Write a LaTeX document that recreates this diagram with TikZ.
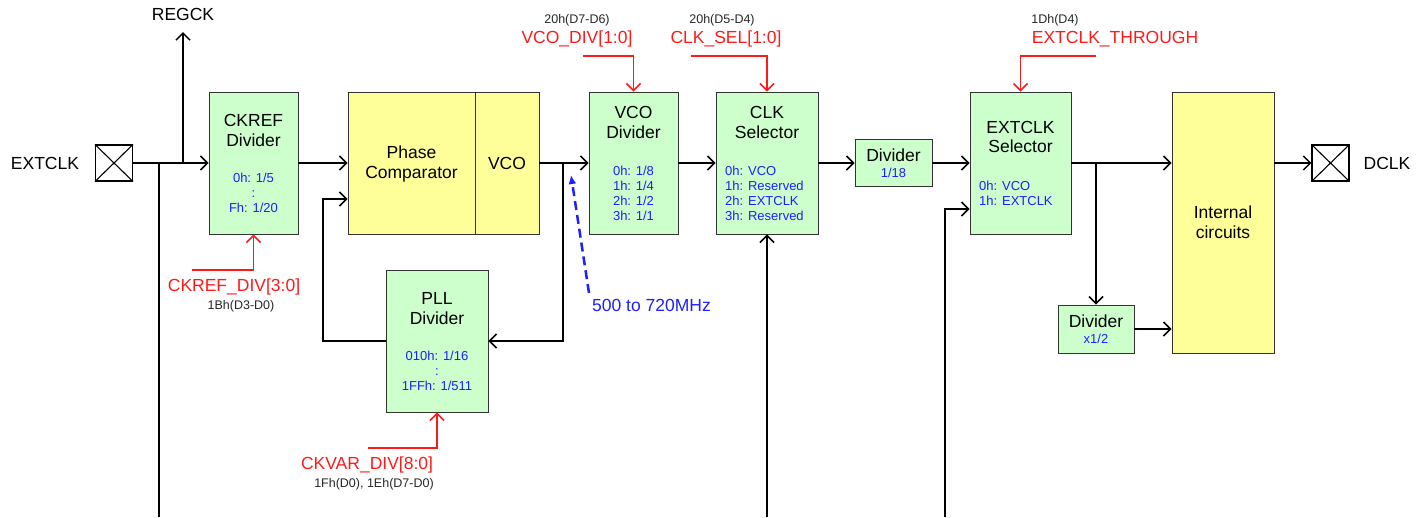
\documentclass[tikz,border=0pt]{standalone}
\usepackage{fontspec}
\setmainfont{Liberation Sans}
\usetikzlibrary{arrows.meta}
\definecolor{boxgreen}{HTML}{CCFFCC}
\definecolor{boxyellow}{HTML}{FFFF99}
\definecolor{sigred}{HTML}{FF1A1A}
\definecolor{valblue}{HTML}{1F1FFF}
\definecolor{edgegray}{HTML}{333333}
\begin{document}
\begin{tikzpicture}[x=1pt,y=-1pt,
 gbox/.style={draw=edgegray, line width=0.9pt, fill=boxgreen, inner sep=0pt},
 ybox/.style={draw=edgegray, line width=0.9pt, fill=boxyellow, inner sep=0pt},
 padbox/.style={draw=black, line width=1.1pt, fill=white, minimum width=37pt, minimum height=36pt, inner sep=0pt},
 wire/.style={line width=1.5pt, black},
 arr/.style={wire, -{Straight Barb[length=7pt,width=14pt]}},
 redarr/.style={line width=1.5pt, sigred, -{Straight Barb[length=7pt,width=14pt]}},
 big/.style={font=\fontsize{17.5}{19.5}\selectfont, inner sep=0pt, align=center},
 val/.style={font=\fontsize{13}{15}\selectfont, text=valblue, inner sep=0pt},
 reg/.style={font=\fontsize{17.5}{19.5}\selectfont, text=sigred, inner sep=0pt},
 addr/.style={font=\fontsize{12.5}{14}\selectfont, text=black!85, inner sep=0pt},
]
\useasboundingbox (0,0) rectangle (1425,517);

% ---- boxes
\node[gbox, minimum width=89pt, minimum height=142pt] (ckref) at (253.5,163) {};
\node[ybox, minimum width=127pt, minimum height=142pt] (pc) at (411.5,163) {};
\node[ybox, minimum width=64pt, minimum height=142pt] (vco) at (507,163) {};
\node[gbox, minimum width=89pt, minimum height=142pt] (vdiv) at (633.5,163) {};
\node[gbox, minimum width=102pt, minimum height=142pt] (clksel) at (767,163) {};
\node[gbox, minimum width=77pt, minimum height=47pt] (div18) at (893.5,163) {};
\node[gbox, minimum width=101pt, minimum height=142pt] (extsel) at (1020.5,163) {};
\node[gbox, minimum width=102pt, minimum height=142pt] (pll) at (437,341) {};
\node[gbox, minimum width=76pt, minimum height=48pt] (div2) at (1096,329) {};
\node[ybox, minimum width=102pt, minimum height=261pt] (ic) at (1223,222.5) {};

% ---- pads
\node[padbox] (padin) at (114,163) {};
\draw[line width=1.1pt] (padin.north west) -- (padin.south east) (padin.north east) -- (padin.south west);
\node[padbox] (padout) at (1330.5,163) {};
\draw[line width=1.1pt] (padout.north west) -- (padout.south east) (padout.north east) -- (padout.south west);

% ---- box texts
\node[big] (ckrefT) at (253.5,130.5) {CKREF\\Divider};
\node[val, align=center] (ckrefV) at (253.5,193) {0h: 1/5\\:\\Fh: 1/20};
\node[big] (pcT) at (411.5,164) {Phase\\Comparator};
\node[big] (vcoT) at (507,163) {VCO};
\node[big] (vdivT) at (633.5,122.5) {VCO\\Divider};
\node[val, align=center] (vdivV) at (633.5,193.5) {0h: 1/8\\1h: 1/4\\2h: 1/2\\3h: 1/1};
\node[big] (clkselT) at (767,122.5) {CLK\\Selector};
\node[val, align=left, anchor=west] (clkselV) at (725,193.5) {0h: VCO\\1h: Reserved\\2h: EXTCLK\\3h: Reserved};
\node[big] (div18T) at (893.5,155) {Divider};
\node[val] (div18V) at (893.5,173) {1/18};
\node[big] (extselT) at (1020.5,137) {EXTCLK\\Selector};
\node[val, align=left, anchor=west] (extselV) at (979,193.5) {0h: VCO\\1h: EXTCLK};
\node[big] (pllT) at (437,308.5) {PLL\\Divider};
\node[val, align=center] (pllV) at (437,371) {010h: 1/16\\:\\1FFh: 1/511};
\node[big] (div2T) at (1096,321) {Divider};
\node[val] (div2V) at (1096,339) {x1/2};
\node[big] (icT) at (1223,222) {Internal\\circuits};

% ---- outside labels
\node[big] (extclkL) at (45,163) {EXTCLK};
\node[big] (dclkL) at (1387,163) {DCLK};
\node[big] (regckL) at (183,14) {REGCK};
\coordinate (regckTip) at (183,32);

% ---- main wires
\coordinate (jL) at (159,163);
\coordinate (jR) at (183,163);
\coordinate (botL) at (159,517);
\draw[arr] (padin.east) -- (ckref.west);
\draw[wire] (jL) -- (botL);
\draw[arr] (jR) -- (regckTip);
\draw[arr] (ckref.east) -- (pc.west);
\draw[arr] (vco.east) -- (vdiv.west);
\coordinate (jV) at (563,163);
\draw[arr] (jV) |- (pll.east);
\coordinate (fbL) at (323,199);
\draw[arr] (pll.west) -| (fbL) -- (fbL -| pc.west);
\draw[arr] (vdiv.east) -- (clksel.west);
\draw[arr] (clksel.east) -- (div18.west);
\draw[arr] (div18.east) -- (extsel.west);
\coordinate (botC) at (767,517);
\draw[arr] (botC) -- (clksel.south);
\coordinate (botE) at (945,517);
\coordinate (eIn) at (945,209);
\draw[arr] (botE) -- (eIn) -- (eIn -| extsel.west);
\draw[arr] (extsel.east) -- (extsel.east -| ic.west);
\coordinate (jO) at (1096,163);
\draw[arr] (jO) -- (div2.north);
\draw[arr] (div2.east) -- (div2.east -| ic.west);
\draw[arr] (ic.east |- padout.west) -- (padout.west);

% ---- register controls
\node[addr] (vdivA) at (577,20) {20h(D7-D6)};
\node[reg] (vdivR) at (577,39) {VCO\_DIV[1:0]};
\coordinate (vdivS) at (583,56);
\draw[redarr] (vdivS) -| (vdiv.north);

\node[addr] (clkselA) at (722,20) {20h(D5-D4)};
\node[reg] (clkselR) at (726,39) {CLK\_SEL[1:0]};
\coordinate (clkselS) at (691,56);
\draw[redarr] (clkselS) -| (clksel.north);

\node[addr] (extselA) at (1055,20) {1Dh(D4)};
\node[reg] (extselR) at (1115,39) {EXTCLK\_THROUGH};
\coordinate (extselS) at (1096,56);
\draw[redarr] (extselS) -| (extsel.north);

\node[reg] (ckrefR) at (234,287) {CKREF\_DIV[3:0]};
\node[addr] (ckrefA) at (241,306) {1Bh(D3-D0)};
\coordinate (ckrefS) at (192,270);
\draw[redarr] (ckrefS) -| (ckref.south);

\node[reg] (pllR) at (367,465) {CKVAR\_DIV[8:0]};
\node[addr] (pllA) at (374,484) {1Fh(D0), 1Eh(D7-D0)};
\coordinate (pllS) at (368,448);
\draw[redarr] (pllS) -| (pll.south);

% ---- frequency note
\node[font=\fontsize{17.5}{19.5}\selectfont, text=valblue, inner sep=0pt, anchor=west] (freq) at (592,305) {500 to 720MHz};
\coordinate (freqS) at (589,293);
\coordinate (freqT) at (571,175);
\draw[valblue, line width=2.5pt, dash pattern=on 9pt off 5pt, -{Latex[length=9pt,width=8pt]}] (freqS) -- (freqT);
\end{tikzpicture}
\end{document}
